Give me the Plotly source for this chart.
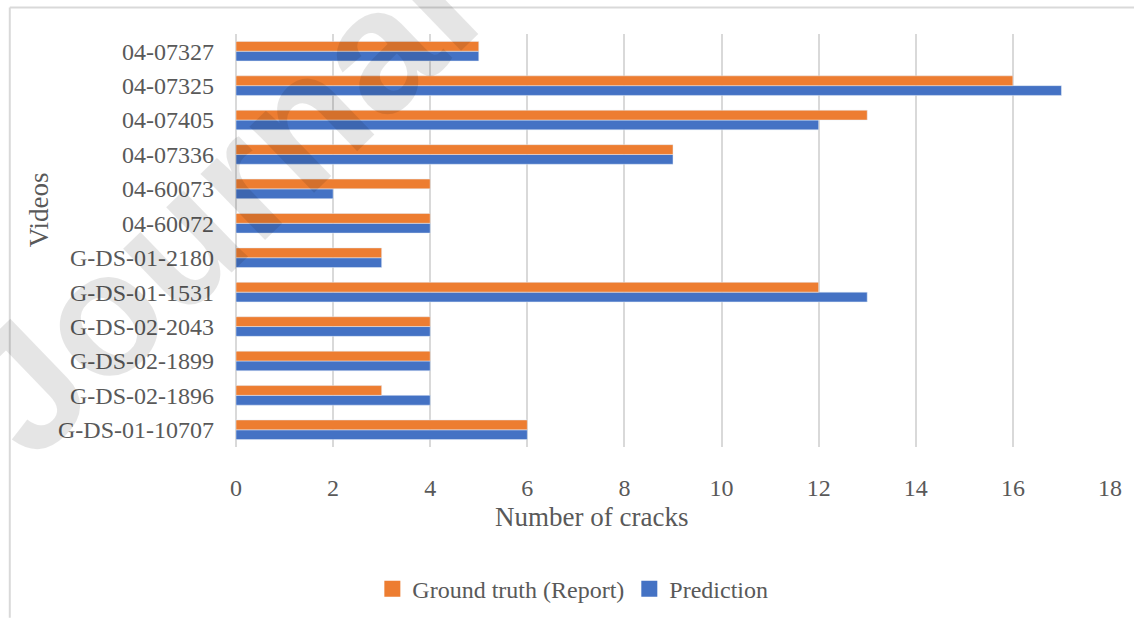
import plotly.graph_objects as go

# Videos listed from top row to bottom row
videos = [
    "04-07327", "04-07325", "04-07405", "04-07336", "04-60073", "04-60072",
    "G-DS-01-2180", "G-DS-01-1531", "G-DS-02-2043", "G-DS-02-1899",
    "G-DS-02-1896", "G-DS-01-10707",
]
ground_truth = [5, 16, 13, 9, 4, 4, 3, 12, 4, 4, 3, 6]
prediction = [5, 17, 12, 9, 2, 4, 3, 13, 4, 4, 4, 6]
x_ticks = list(range(0, 19, 2))

W, H = 1134, 624
L, R, T, B = 236, 21, 34, 169
PW, PH = W - L - R, H - T - B

FONT = "Liberation Serif, Times New Roman, serif"
TXT = "#595959"
GRID = "#d9d9d9"
ORANGE = "#ED7D31"
BLUE = "#4472C4"


def px(x):
    return (x - L) / PW


def py(y):
    return 1 - (y - T) / PH


fig = go.Figure()
# Prediction first so it sits below the ground-truth bar in each group
fig.add_trace(go.Bar(y=videos, x=prediction, orientation="h",
                     name="Prediction", marker_color=BLUE, showlegend=False))
fig.add_trace(go.Bar(y=videos, x=ground_truth, orientation="h",
                     name="Ground truth (Report)", marker_color=ORANGE, showlegend=False))

# Legend entries with larger square swatches
for name, color, rank in [("Ground truth (Report)", ORANGE, 1), ("Prediction", BLUE, 2)]:
    fig.add_trace(go.Scatter(x=[None], y=[None], mode="markers", name=name,
                             legendrank=rank,
                             marker=dict(symbol="square", size=16, color=color,
                                         line=dict(width=0))))

fig.update_layout(
    width=W, height=H,
    margin=dict(l=L, r=R, t=T, b=B),
    paper_bgcolor="white", plot_bgcolor="white",
    barmode="group", bargap=0.43, bargroupgap=0,
    font=dict(family=FONT, size=24, color=TXT),
    showlegend=True,
    legend=dict(orientation="h", x=px(574), xanchor="center",
                y=py(600), yanchor="middle", itemsizing="trace",
                font=dict(family=FONT, size=24, color=TXT),
                itemwidth=30, tracegroupgap=0),
)

fig.update_xaxes(
    range=[0, 18], tickvals=x_ticks, ticktext=[str(v) for v in x_ticks],
    showgrid=True, gridcolor=GRID, gridwidth=2,
    zeroline=True, zerolinecolor=GRID, zerolinewidth=2,
    showline=False, ticks="", ticklabelstandoff=24,
    tickfont=dict(family=FONT, size=24, color=TXT),
)
fig.update_yaxes(
    categoryorder="array", categoryarray=list(reversed(videos)),
    showgrid=False, zeroline=False, showline=False, ticks="",
    ticklabelstandoff=21,
    tickfont=dict(family=FONT, size=24, color=TXT),
)

annotations = [
    dict(text="Number of cracks", x=px(593), y=py(526), xref="paper", yref="paper",
         xanchor="center", yanchor="middle", showarrow=False,
         font=dict(family=FONT, size=27, color=TXT)),
    dict(text="Videos", x=px(38), y=py(213), xref="paper", yref="paper",
         xanchor="center", yanchor="middle", showarrow=False, textangle=-90,
         font=dict(family=FONT, size=27, color=TXT)),
    dict(text="<b>Journal</b>", x=px(218), y=py(205), xref="paper", yref="paper",
         xanchor="center", yanchor="middle", showarrow=False, textangle=-44,
         font=dict(family="Liberation Sans, Arial, sans-serif", size=175,
                   color="rgba(0,0,0,0.10)")),
]
fig.update_layout(annotations=annotations)

# Light frame around the chart
fig.add_shape(type="line", xref="paper", yref="paper",
              x0=px(9), x1=px(W + 5), y0=py(7), y1=py(7),
              line=dict(color=GRID, width=2))
fig.add_shape(type="line", xref="paper", yref="paper",
              x0=px(9), x1=px(9), y0=py(7), y1=py(H + 5),
              line=dict(color=GRID, width=2))

fig.write_html("out.html")
